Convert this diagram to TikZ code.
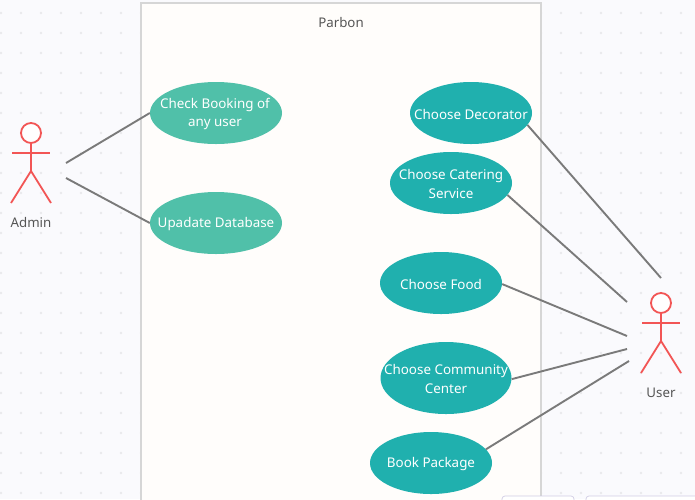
\documentclass[tikz,border=0pt]{standalone}
\usepackage{fontspec}
\setmainfont{Noto Sans}
\usetikzlibrary{shapes.geometric}
\definecolor{bgc}{HTML}{FAFAFD}
\definecolor{dotc}{HTML}{E9E9EC}
\definecolor{sysfill}{HTML}{FFFDFB}
\definecolor{sysline}{HTML}{D6D6D6}
\definecolor{teal}{HTML}{20B0AE}
\definecolor{mint}{HTML}{50C0A9}
\definecolor{actorc}{HTML}{F25555}
\definecolor{linkc}{HTML}{7A7A7A}
\definecolor{txtc}{HTML}{555555}
\definecolor{tabc}{HTML}{D0CCE4}
\tikzset{
  usecase/.style={ellipse,fill=#1,draw=none,inner sep=0pt},
  uctext/.style={text=white,font=\fontsize{13.4}{18.5}\selectfont,align=center,inner sep=0pt,yshift=-1.2pt},
  plain/.style={text=txtc,font=\fontsize{13.3}{18}\selectfont,inner sep=0pt,yshift=-.8pt},
  link/.style={draw=linkc,line width=1.9pt},
  actor/.style={draw=actorc,line width=1.8pt},
  head/.style={circle,draw=actorc,fill=white,line width=1.8pt,minimum size=20pt,inner sep=0pt},
}
\begin{document}
\begin{tikzpicture}[x=1pt,y=-1pt]
\useasboundingbox (0,0) rectangle (695,499);
\fill[bgc] (0,0) rectangle (695,499);
\foreach \px in {1,21,...,681}
  \foreach \py in {13,33,...,493}
    \fill[dotc] (\px,\py) circle (1.4pt);
% system boundary
\draw[sysline,fill=sysfill,line width=2pt] (141,510) -- (141,3) -- (541,3) -- (541,510);
% tabs at the bottom
\draw[tabc,fill=white,line width=.7pt,rounded corners=3pt] (502,505) -- (502,496) -- (574,496) -- (574,505);
\draw[tabc,fill=white,line width=.7pt,rounded corners=3pt] (586,505) -- (586,496) -- (700,496) -- (700,505);
\node[plain] (title) at (341,22) {Parbon};
% use cases
\node[usecase=mint,minimum width=132pt,minimum height=62pt] (check) at (216,113) {};
\node[uctext] (checkt) at (215,113) {Check Booking of\\any user};
\node[usecase=mint,minimum width=132pt,minimum height=62pt] (update) at (216,223) {};
\node[uctext] (updatet) at (216,223) {Upadate Database};
\node[usecase=teal,minimum width=122pt,minimum height=62pt] (decor) at (471,113) {};
\node[uctext] (decort) at (471,113) {Choose Decorator};
\node[usecase=teal,minimum width=122pt,minimum height=62pt] (cater) at (451,183) {};
\node[uctext] (catert) at (451,183) {Choose Catering\\Service};
\node[usecase=teal,minimum width=122pt,minimum height=62pt] (food) at (441,283) {};
\node[uctext] (foodt) at (441,283) {Choose Food};
\node[usecase=teal,minimum width=131pt,minimum height=72pt] (comm) at (446,378) {};
\node[uctext] (commt) at (446,378) {Choose Community\\Center};
\node[usecase=teal,minimum width=122pt,minimum height=62pt] (book) at (431,463) {};
\node[uctext] (bookt) at (431,463) {Book Package};
% connector ends
\coordinate (a1) at (66,163);
\coordinate (a2) at (66,178);
\coordinate (u1) at (661,278);
\coordinate (u2) at (627,302);
\coordinate (u3) at (627,336);
\coordinate (u4) at (627,349);
\coordinate (u5) at (629,361);
% connectors
\draw[link] (a1) -- (check.west);
\draw[link] (a2) -- (update.west);
\draw[link] (decor.-12.5) -- (u1);
\draw[link] (cater.-12.5) -- (u2);
\draw[link] (food.-1) -- (u3);
\draw[link] (comm.-1) -- (u4);
\draw[link] (book.14) -- (u5);
% actors
\node[head] (adminhead) at (31,133) {};
\coordinate (adminhip) at (31,171);
\draw[actor] (adminhead.south) -- (adminhip);
\draw[actor] (12,153) -- (50,153);
\draw[actor] (11,203) -- (adminhip) -- (51,203);
\node[plain] (admin) at (31,222) {Admin};
\node[head] (userhead) at (661,303) {};
\coordinate (userhip) at (661,341);
\draw[actor] (userhead.south) -- (userhip);
\draw[actor] (642,323) -- (680,323);
\draw[actor] (641,373) -- (userhip) -- (681,373);
\node[plain] (user) at (661,392) {User};
\end{tikzpicture}
\end{document}
